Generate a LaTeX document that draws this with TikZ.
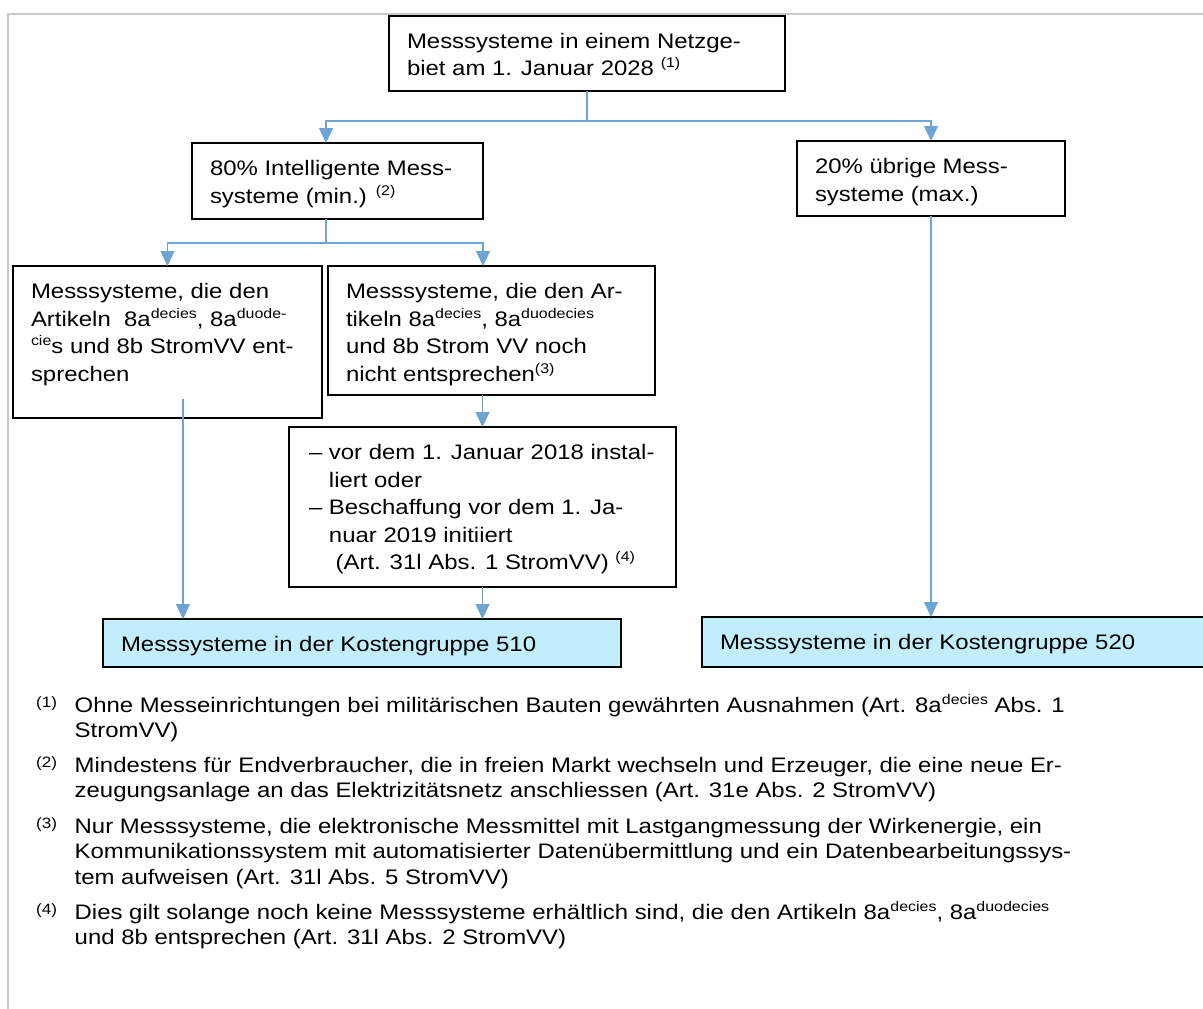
\documentclass[tikz,border=0pt]{standalone}
\usepackage{fontspec}
\setmainfont{Liberation Sans}[FakeStretch=1.14]
\usetikzlibrary{arrows.meta,calc}
\definecolor{arrowblue}{RGB}{108,164,214}
\definecolor{lightcyan}{RGB}{194,238,252}
\definecolor{framegray}{RGB}{200,200,200}
\newcommand\hoch[1]{\raisebox{8pt}{\fontsize{14}{14}\selectfont #1}}
\newcommand\fnmark[1]{\raisebox{5pt}{\fontsize{15}{15}\selectfont #1}}
\newcommand\inbox[3]{\begin{minipage}[t][#2][t]{#1}\raggedright\rule{0pt}{32.5pt}#3\end{minipage}}
\tikzset{
  boxnode/.style={draw=black, line width=1.8pt, anchor=north west, inner xsep=18pt, inner ysep=0pt, outer sep=0pt},
  kgbox/.style={boxnode, fill=lightcyan},
  conn/.style={draw=arrowblue, line width=1.3pt},
  arr/.style={conn, -{Triangle[width=14pt,length=15pt]}},
  fn/.style={inner sep=0pt, anchor=base west, font=\fontsize{21}{25.8}\selectfont},
}
\begin{document}
\begin{tikzpicture}[x=1pt,y=-1pt,font=\fontsize{21}{27.5}\selectfont]
\useasboundingbox (0,0) rectangle (1203,1009);
\draw[framegray, line width=2pt] (8,1009) -- (8,14) -- (1203,14);

% boxes
\node[boxnode] (b1) at (389,16) {\inbox{360pt}{75pt}{Messsysteme in einem Netzge-\\biet am 1. Januar 2028 \hoch{(1)}}};
\node[boxnode] (b2) at (192,143) {\inbox{255pt}{76pt}{80\% Intelligente Mess-\\systeme (min.) \hoch{(2)}}};
\node[boxnode] (b3) at (797,141) {\inbox{232pt}{75pt}{20\% übrige Mess-\\systeme (max.)}};
\node[boxnode] (b4) at (13,266) {\inbox{273pt}{152pt}{Messsysteme, die den\\Artikeln\ \ 8a\hoch{decies}, 8a\hoch{duode-}\\\hoch{cie}s und 8b StromVV ent-\\sprechen}};
\node[boxnode] (b5) at (328,266) {\inbox{291pt}{129pt}{Messsysteme, die den Ar-\\tikeln 8a\hoch{decies}, 8a\hoch{duodecies}\\und 8b Strom VV noch\\nicht entsprechen\hoch{(3)}}};
\node[boxnode, inner xsep=20pt] (b6) at (289,427) {\inbox{347pt}{160pt}{\textendash\ vor dem 1. Januar 2018 instal-\\\phantom{\textendash\ }liert oder\\\textendash\ Beschaffung vor dem 1. Ja-\\\phantom{\textendash\ }nuar 2019 initiiert\\\phantom{\textendash\ }\ (Art. 31l Abs. 1 StromVV) \hoch{(4)}}};
\node[kgbox] (b7) at (103,619) {\inbox{482pt}{48pt}{Messsysteme in der Kostengruppe 510}};
\node[kgbox] (b8) at (702,617) {\inbox{477pt}{50pt}{Messsysteme in der Kostengruppe 520}};

% connectors
\coordinate (j1) at (587,121);
\draw[conn] (b1.south) -- (b1.south |- j1);
\draw[arr] (j1) -| ([xshift=-11.5pt]b2.north);
\draw[arr] (j1) -| (b3.north);
\coordinate (j2) at (326,243);
\draw[conn] ([xshift=-11.5pt]b2.south) -- (j2);
\draw[arr] (j2) -| (b4.north);
\draw[arr] (j2) -| ([xshift=-8.5pt]b5.north);
\draw[arr] (b6.north |- b5.south) -- (b6.north);
\draw[arr] (b6.south) -- (b6.south |- b7.north);
\coordinate (s4) at ([xshift=15.5pt,yshift=19pt]b4.south);
\draw[arr] (s4) -- (s4 |- b7.north);
\draw[arr] (b3.south) -- (b3.south |- b8.north);

% footnotes
\node[fn] (m1) at (36,712) {\fnmark{(1)}};
\node[fn] (f1) at (74.5,712) {\parbox[t]{1120pt}{\raggedright Ohne Messeinrichtungen bei militärischen Bauten gewährten Ausnahmen (Art. 8a\hoch{decies} Abs. 1\\StromVV)}};
\node[fn] (m2) at (36,772) {\fnmark{(2)}};
\node[fn] (f2) at (74.5,772) {\parbox[t]{1120pt}{\raggedright Mindestens für Endverbraucher, die in freien Markt wechseln und Erzeuger, die eine neue Er-\\zeugungsanlage an das Elektrizitätsnetz anschliessen (Art. 31e Abs. 2 StromVV)}};
\node[fn] (m3) at (36,833) {\fnmark{(3)}};
\node[fn] (f3) at (74.5,833) {\parbox[t]{1120pt}{\raggedright Nur Messsysteme, die elektronische Messmittel mit Lastgangmessung der Wirkenergie, ein\\Kommunikationssystem mit automatisierter Datenübermittlung und ein Datenbearbeitungssys-\\tem aufweisen (Art. 31l Abs. 5 StromVV)}};
\node[fn] (m4) at (36,919) {\fnmark{(4)}};
\node[fn] (f4) at (74.5,919) {\parbox[t]{1120pt}{\raggedright Dies gilt solange noch keine Messsysteme erhältlich sind, die den Artikeln 8a\hoch{decies}, 8a\hoch{duodecies}\\und 8b entsprechen (Art. 31l Abs. 2 StromVV)}};
\end{tikzpicture}
\end{document}
